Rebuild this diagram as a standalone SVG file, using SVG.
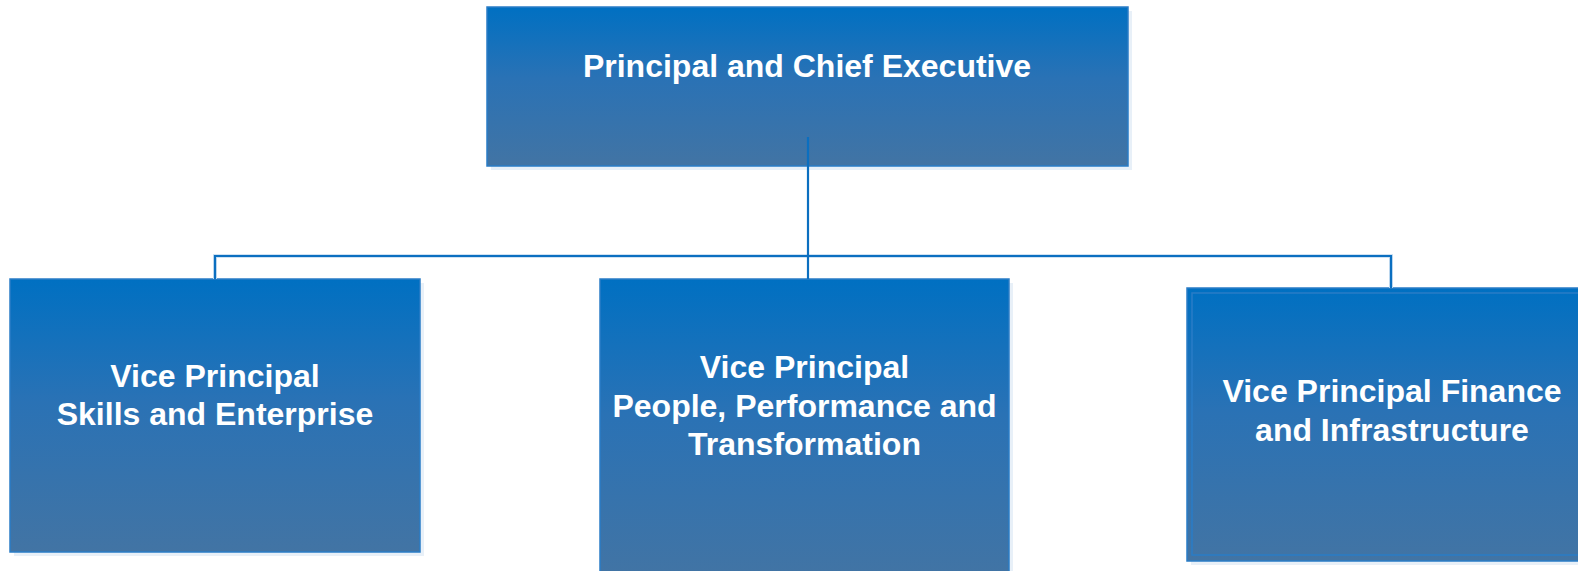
<svg xmlns="http://www.w3.org/2000/svg" width="1578" height="571" viewBox="0 0 1578 571">
<defs>
<linearGradient id="g" x1="0" y1="0" x2="0" y2="1">
<stop offset="0" stop-color="#0070c2"/>
<stop offset="0.45" stop-color="#2a72b5"/>
<stop offset="1" stop-color="#4274a4"/>
</linearGradient>
</defs>
<style>
.shadow{fill:#e8f0f8}
.box{fill:url(#g);stroke:#2a7cc6;stroke-width:1.5}
.inner{fill:none;stroke:#2a7cc6;stroke-width:1.5}
.t{font-family:"Liberation Sans",Arial,sans-serif;font-weight:bold;font-size:32px;fill:#ffffff;text-anchor:middle}
.c{fill:none;stroke:#0b6fc0;stroke-width:2.2}
.halo{fill:none;stroke:#cfe2f3;stroke-width:4}
</style>
<g id="n0">
<rect class="shadow" x="491" y="11" width="641" height="159"/>
<rect class="box" x="487" y="7" width="641" height="159"/>
<text class="t" x="807" y="77">Principal and Chief Executive</text>
</g>
<g id="n1">
<rect class="shadow" x="14" y="283" width="410" height="273"/>
<rect class="box" x="10" y="279" width="410" height="273"/>
<text class="t" x="215" y="387">Vice Principal</text>
<text class="t" x="215" y="425">Skills and Enterprise</text>
</g>
<g id="n2">
<rect class="shadow" x="604" y="283" width="409" height="300"/>
<rect class="box" x="600" y="279" width="409" height="300"/>
<text class="t" x="804.5" y="378">Vice Principal</text>
<text class="t" x="804.5" y="417">People, Performance and</text>
<text class="t" x="804.5" y="455">Transformation</text>
</g>
<g id="n3">
<rect class="shadow" x="1191" y="292" width="410" height="273"/>
<rect class="box" x="1187" y="288" width="410" height="273"/>
<rect class="inner" x="1192" y="293" width="400" height="262"/>
<text class="t" x="1392" y="402">Vice Principal Finance</text>
<text class="t" x="1392" y="441">and Infrastructure</text>
</g>
<g id="connectors">
<path class="halo" d="M215 279 V256 H1391 V288"/>
<path class="c" d="M808 137 V279"/>
<path class="c" d="M215 279 V256 H1391 V288"/>
</g>
</svg>
